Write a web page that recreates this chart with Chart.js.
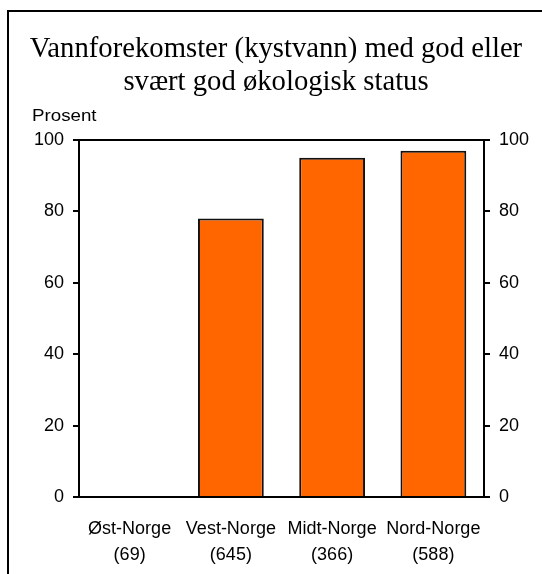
<!DOCTYPE html>
<html>
<head>
<meta charset="utf-8">
<script src="https://cdn.jsdelivr.net/npm/chart.js@4"></script>
<style>
  html, body { margin: 0; padding: 0; background: #fff; }
  #wrap { position: relative; width: 542px; height: 574px; }
</style>
</head>
<body>
<div id="wrap"><canvas id="c" width="542" height="574"></canvas></div>
<script>
const regions = ['Øst-Norge', 'Vest-Norge', 'Midt-Norge', 'Nord-Norge'];
const counts = ['(69)', '(645)', '(366)', '(588)'];
const shareGood = [0, 78, 95, 97];
const yTicks = [0, 20, 40, 60, 80, 100];
const titleLines = ['Vannforekomster (kystvann) med god eller', 'svært god økologisk status'];
const yUnit = 'Prosent';

const labels = regions.map((r, i) => [r, counts[i]]);

const sansFont = "'Liberation Sans', Arial, sans-serif";
const serifFont = "'Liberation Serif', 'Times New Roman', serif";

const framePlugin = {
  id: 'frame',
  beforeDraw(chart) {
    const ctx = chart.ctx;
    ctx.save();
    ctx.fillStyle = '#fff';
    ctx.fillRect(0, 0, chart.width, chart.height);
    ctx.strokeStyle = '#000';
    ctx.lineWidth = 2;
    ctx.strokeRect(8, 11, chart.width + 20, chart.height + 20);
    ctx.restore();
  },
  afterDraw(chart) {
    const ctx = chart.ctx;
    const a = chart.chartArea;
    ctx.save();
    ctx.fillStyle = '#000';
    ctx.font = "16px " + sansFont;
    ctx.textAlign = 'left';
    ctx.textBaseline = 'alphabetic';
    ctx.translate(32, a.top - 19);
    ctx.scale(1.17, 1);
    ctx.fillText(yUnit, 0, 0);
    ctx.restore();
  }
};

const axisCommon = {
  min: 0, max: 100,
  afterBuildTicks(axis) { axis.ticks = yTicks.map(v => ({ value: v })); },
  grid: { display: true, drawOnChartArea: false, drawTicks: true, tickLength: 6, color: '#000', lineWidth: 2 },
  border: { display: true, color: '#000', width: 2 },
  ticks: { color: '#000', font: { family: sansFont, size: 18 }, padding: 9 }
};

new Chart(document.getElementById('c'), {
  type: 'bar',
  data: {
    labels: labels,
    datasets: [{
      data: shareGood,
      backgroundColor: '#FF6600',
      borderColor: '#111',
      borderWidth: 2,
      borderSkipped: 'bottom',
      barPercentage: 0.65,
      categoryPercentage: 1.0,
      yAxisID: 'y'
    }]
  },
  options: {
    responsive: false,
    animation: false,
    devicePixelRatio: 1,
    layout: { padding: { left: 10, right: 0, top: 33, bottom: 0 } },
    plugins: {
      legend: { display: false },
      tooltip: { enabled: false },
      title: {
        display: true,
        text: titleLines,
        color: '#000',
        font: { family: serifFont, size: 28.7, weight: 'normal', lineHeight: '33px' },
        padding: { top: 0, bottom: 41 }
      }
    },
    scales: {
      x: {
        position: 'bottom',
        grid: { display: false },
        border: { display: true, color: '#000', width: 2 },
        ticks: {
          color: '#000',
          font: { family: sansFont, size: 18, lineHeight: '26px' },
          padding: 11,
          maxRotation: 0, autoSkip: false
        },
        afterFit(axis) { axis.height = 77; }
      },
      xTop: {
        position: 'top',
        type: 'category',
        grid: { display: false },
        border: { display: true, color: '#000', width: 2 },
        ticks: { display: false },
        afterFit(axis) { axis.height = 0; }
      },
      y: Object.assign({}, axisCommon, {
        position: 'left',
        afterFit(axis) { axis.width = 69; }
      }),
      y2: Object.assign({}, axisCommon, {
        position: 'right',
        afterFit(axis) { axis.width = 58; }
      })
    }
  },
  plugins: [framePlugin]
});
</script>
</body>
</html>
